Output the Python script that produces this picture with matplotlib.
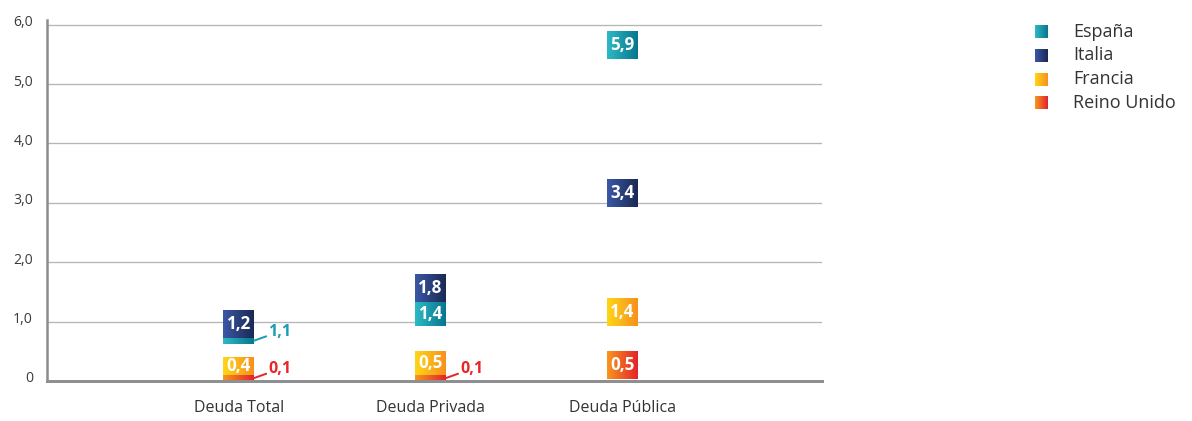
import numpy as np
import matplotlib.pyplot as plt
import matplotlib.colors as mcolors
from matplotlib.transforms import ScaledTranslation

categories = ["Deuda Total", "Deuda Privada", "Deuda Pública"]
series = ["España", "Italia", "Francia", "Reino Unido"]
espana = [1.1, 1.4, 5.9]
italia = [1.2, 1.8, 3.4]
francia = [0.4, 0.5, 1.4]
reino_unido = [0.1, 0.1, 0.5]
y_ticks = [0, 1, 2, 3, 4, 5, 6]
y_tick_labels = ["0", "1,0", "2,0", "3,0", "4,0", "5,0", "6,0"]

# left / right end of each colour ramp
ramps = {
    "España": ("#2dbac4", "#07768f"),
    "Italia": ("#3b58a5", "#1a2955"),
    "Francia": ("#ffd615", "#f7901e"),
    "Reino Unido": ("#f8961d", "#e4232a"),
}
outside_colors = {"España": "#1b9db3", "Italia": "#24367a",
                  "Francia": "#f7a81b", "Reino Unido": "#e8262b"}

plt.rcParams['font.family'] = ['Open Sans', 'DejaVu Sans']

W, H, DPI = 1192, 421, 72
BOX_W = 0.16   # marker width, x units
BOX_H = 0.47   # marker height, y units


def ramp(c0, c1, n=64):
	a = np.array(mcolors.to_rgb(c0))
	b = np.array(mcolors.to_rgb(c1))
	t = np.linspace(0, 1, n)[None, :, None]
	return a + (b - a) * t


def fmt(v):
	return f"{v:.1f}".replace(".", ",")


def main():
	fig = plt.figure(figsize=(W / DPI, H / DPI), dpi=DPI)
	ax = fig.add_axes([47 / W, (H - 381) / H, (822 - 47) / W, 361 / H])

	values = [espana, italia, francia, reino_unido]
	xs = np.arange(1, len(categories) + 1)

	for j, x in enumerate(xs):
		boxes = [(v[j] - BOX_H, v[j]) for v in values]
		for i, name in enumerate(series):
			top = values[i][j]
			# visible part of this marker once the later ones sit on top
			lo, hi = max(top - BOX_H, 0), top
			for b2, t2 in boxes[i + 1:]:
				if b2 <= lo < t2:
					lo = min(t2, hi)
				elif b2 < hi <= t2:
					hi = max(b2, lo)
			ax.imshow(ramp(*ramps[name]), extent=[x - BOX_W / 2, x + BOX_W / 2, top - BOX_H, top],
					  aspect='auto', interpolation='bilinear', zorder=3 + i)
			if hi - lo > 0.25:
				ax.text(x, (lo + hi) / 2, fmt(top), color='white', fontsize=17, fontweight='bold',
						ha='center', va='center', zorder=10)
			else:
				ax.annotate(fmt(top), xy=(x + BOX_W / 2, (lo + hi) / 2), xytext=(14, 9),
							textcoords='offset points', ha='left', va='center',
							color=outside_colors[name], fontsize=16, fontweight='bold', zorder=10,
							arrowprops=dict(arrowstyle='-', color=outside_colors[name], lw=2,
											shrinkA=0, shrinkB=0, relpos=(0, 0.25)))

	ax.set_xlim(0, 4.04)
	ax.set_ylim(0, 6.08)
	ax.set_yticks(y_ticks, y_tick_labels)
	ax.set_xticks(xs, categories)
	ax.tick_params(axis='y', length=0, pad=14, labelsize=14, labelcolor='#3a3a3a')
	ax.tick_params(axis='x', length=0, pad=19, labelsize=16, labelcolor='#333333')
	for lbl in ax.get_yticklabels():
		lbl.set_transform(lbl.get_transform() + ScaledTranslation(0, 4 / 72, fig.dpi_scale_trans))

	ax.set_axisbelow(True)
	ax.yaxis.grid(True, color='#b5b5b5', lw=1.3)
	for side in ['top', 'right']:
		ax.spines[side].set_visible(False)
	ax.spines['left'].set_color('#8c8c8e')
	ax.spines['left'].set_linewidth(2.5)
	ax.spines['bottom'].set_color('#8f8f91')
	ax.spines['bottom'].set_linewidth(3)
	for s in ax.spines.values():
		s.set_zorder(12)

	# legend drawn by hand so the swatches keep their colour ramps
	lax = fig.add_axes([1020 / W, (H - 115) / H, 172 / W, 105 / H])
	for i, name in enumerate(series):
		y = 31.5 + i * 23.8
		lax.imshow(ramp(*ramps[name]), extent=[1035, 1048, y + 6.5, y - 6.5],
				   aspect='auto', interpolation='bilinear')
		lax.text(1073, y, name, fontsize=18, color='#333333', ha='left', va='center')
	lax.set_xlim(1020, 1192)
	lax.set_ylim(115, 10)
	lax.axis('off')

	fig.savefig("out.png", dpi=DPI)


if __name__ == "__main__":
	main()
